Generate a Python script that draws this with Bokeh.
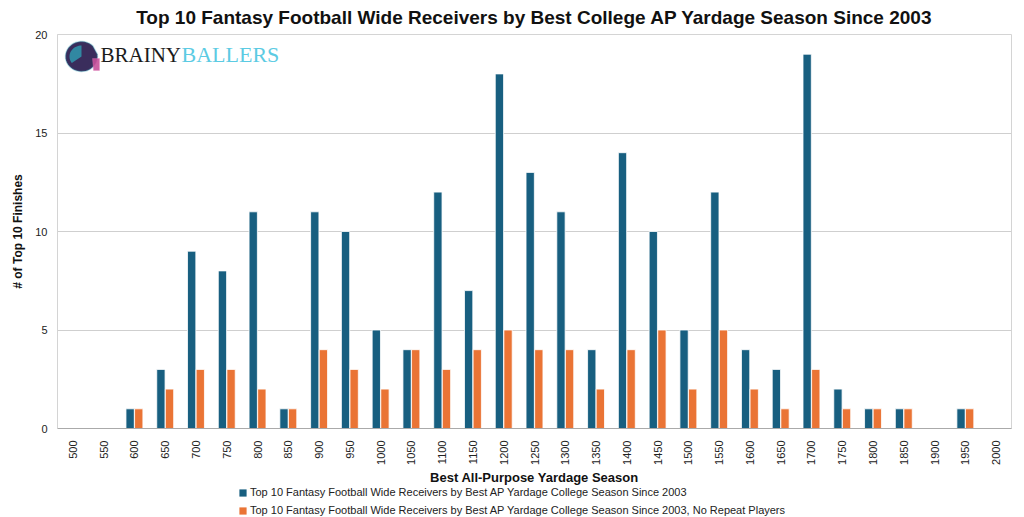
import numpy as np
from bokeh.plotting import figure
from bokeh.layouts import column
from bokeh.models import (ColumnDataSource, Range1d, FixedTicker, Legend, LegendItem,
                          Label, PolyAnnotation)
from bokeh.transform import dodge
from bokeh.embed import file_html
from bokeh.resources import INLINE

# ---------------- data ----------------
yardage = ["500", "550", "600", "650", "700", "750", "800", "850", "900", "950",
           "1000", "1050", "1100", "1150", "1200", "1250", "1300", "1350", "1400", "1450",
           "1500", "1550", "1600", "1650", "1700", "1750", "1800", "1850", "1900", "1950", "2000"]
all_finishes = [0, 0, 1, 3, 9, 8, 11, 1, 11, 10,
                5, 4, 12, 7, 18, 13, 11, 4, 14, 10,
                5, 12, 4, 3, 19, 2, 1, 1, 0, 1, 0]
no_repeat = [0, 0, 1, 2, 3, 3, 2, 1, 4, 3,
             2, 4, 3, 4, 5, 4, 4, 2, 4, 5,
             2, 5, 2, 1, 3, 1, 1, 1, 0, 1, 0]
y_ticks = [0, 5, 10, 15, 20]

title_text = "Top 10 Fantasy Football Wide Receivers by Best College AP Yardage Season Since 2003"
series_1 = "Top 10 Fantasy Football Wide Receivers by Best AP Yardage College Season Since 2003"
series_2 = "Top 10 Fantasy Football Wide Receivers by Best AP Yardage College Season Since 2003, No Repeat Players"

BLUE = "#185f80"
ORANGE = "#ea7435"
SANS = "Liberation Sans"

source = ColumnDataSource(dict(yard=yardage, a=all_finishes, b=no_repeat))

p = figure(x_range=yardage, y_range=Range1d(0, 20), width=1016, height=487,
           output_backend="svg", toolbar_location=None,
           min_border_left=57, min_border_right=5, min_border_top=34, min_border_bottom=57)

r1 = p.vbar(x=dodge("yard", -0.14, range=p.x_range), top="a", width=0.27, source=source,
            fill_color=BLUE, line_color="white", line_width=0.8)
r2 = p.vbar(x=dodge("yard", 0.14, range=p.x_range), top="b", width=0.27, source=source,
            fill_color=ORANGE, line_color="white", line_width=0.8)

# title
p.title.text = title_text
p.title.align = "center"
p.title.vertical_align = "top"
p.title.text_font = SANS
p.title.text_font_size = "19px"
p.title.text_font_style = "bold"
p.title.text_color = "#111111"
p.title.standoff = 10

# axes
p.yaxis.ticker = FixedTicker(ticks=y_ticks)
p.yaxis.axis_label = "# of Top 10 Finishes"
p.yaxis.axis_label_text_font = SANS
p.yaxis.axis_label_text_font_size = "12px"
p.yaxis.axis_label_text_font_style = "bold"
p.yaxis.axis_label_text_color = "#111111"
p.yaxis.axis_label_standoff = 7
p.yaxis.major_label_text_font = SANS
p.yaxis.major_label_text_font_size = "11px"
p.yaxis.major_label_text_color = "#222222"
p.yaxis.major_label_standoff = 10
p.yaxis.major_tick_out = 0
p.yaxis.major_tick_in = 0
p.yaxis.major_tick_line_color = None
p.yaxis.minor_tick_line_color = None
p.yaxis.axis_line_color = "#d4d4d4"

p.xaxis.axis_label = "Best All-Purpose Yardage Season"
p.xaxis.axis_label_text_font = SANS
p.xaxis.axis_label_text_font_size = "13px"
p.xaxis.axis_label_text_font_style = "bold"
p.xaxis.axis_label_text_color = "#111111"
p.xaxis.axis_label_standoff = 2
p.xaxis.major_label_orientation = np.pi / 2
p.xaxis.major_label_text_font = SANS
p.xaxis.major_label_text_font_size = "11px"
p.xaxis.major_label_text_color = "#222222"
p.xaxis.major_label_standoff = 12
p.xaxis.major_tick_out = 0
p.xaxis.major_tick_in = 0
p.xaxis.major_tick_line_color = None
p.xaxis.axis_line_color = "#aaaaaa"

p.xgrid.grid_line_color = None
p.ygrid.grid_line_color = "#cfcfcf"
p.ygrid.grid_line_width = 1
p.outline_line_color = "#d4d4d4"

# logo (decoration, frame-relative screen units; FB/FL = frame bottom/left in page px)
FB = 431
FL = 59
HY = FB - 59   # helmet centre
TY = FB - 57   # text baseline
theta = np.linspace(0.25 * np.pi, 2.05 * np.pi, 40)
hx = list((83 - FL) + 16 * np.cos(theta))
hy = list(HY + 15 * np.sin(theta))
p.add_layout(PolyAnnotation(xs=hx, ys=hy, xs_units="screen", ys_units="screen",
                            fill_color="#3a2d5c", fill_alpha=1, line_color="#2aa7b8", line_width=1.5))
theta2 = np.linspace(0.5 * np.pi, 1.2 * np.pi, 20)
hx2 = list((83 - FL) + 12 * np.cos(theta2)) + [83 - FL]
hy2 = list(HY + 11 * np.sin(theta2)) + [HY]
p.add_layout(PolyAnnotation(xs=hx2, ys=hy2, xs_units="screen", ys_units="screen",
                            fill_color="#2f9fb4", fill_alpha=0.8, line_color=None))
p.add_layout(PolyAnnotation(xs=[94 - FL, 101 - FL, 101 - FL, 95 - FL],
                            ys=[HY - 2, HY - 2, HY - 14, HY - 14],
                            xs_units="screen", ys_units="screen",
                            fill_color="#c8509a", fill_alpha=0.9, line_color="#e07ab8", line_width=1))
p.add_layout(Label(x=102 - FL, y=TY, x_units="screen", y_units="screen", text="BRAINY",
                   text_font="Liberation Serif", text_font_size="21px", text_color="#1b1b1b",
                   text_baseline="alphabetic"))
p.add_layout(Label(x=183 - FL, y=TY, x_units="screen", y_units="screen", text="BALLERS",
                   text_font="Liberation Serif", text_font_size="22px", text_color="#5ccbe3",
                   text_baseline="alphabetic"))

# legend in a strip below the chart; its rects share the data but lie far outside its y-range
lp = figure(x_range=p.x_range, y_range=Range1d(-1000, -999), width=1016, height=29,
            output_backend="svg", toolbar_location=None,
            min_border=0, x_axis_location=None, y_axis_location=None)
lp.outline_line_color = None
lp.grid.grid_line_color = None
lr1 = lp.rect(x="yard", y="a", width=0.27, height=0.5, source=source,
              fill_color=BLUE, line_color=None)
lr2 = lp.rect(x="yard", y="b", width=0.27, height=0.5, source=source,
              fill_color=ORANGE, line_color=None)
legend = Legend(items=[LegendItem(label=series_1, renderers=[lr1]),
                       LegendItem(label=series_2, renderers=[lr2])],
                location=(181, 0), orientation="vertical",
                label_text_font=SANS, label_text_font_size="11px", label_text_color="#222222",
                glyph_width=9, glyph_height=9, label_height=9, label_standoff=3,
                spacing=6, padding=2, margin=0,
                border_line_color=None, background_fill_alpha=0)
lp.add_layout(legend, "center")

layout = column(p, lp, spacing=0)
open("out.html", "w").write(file_html(layout, INLINE))
